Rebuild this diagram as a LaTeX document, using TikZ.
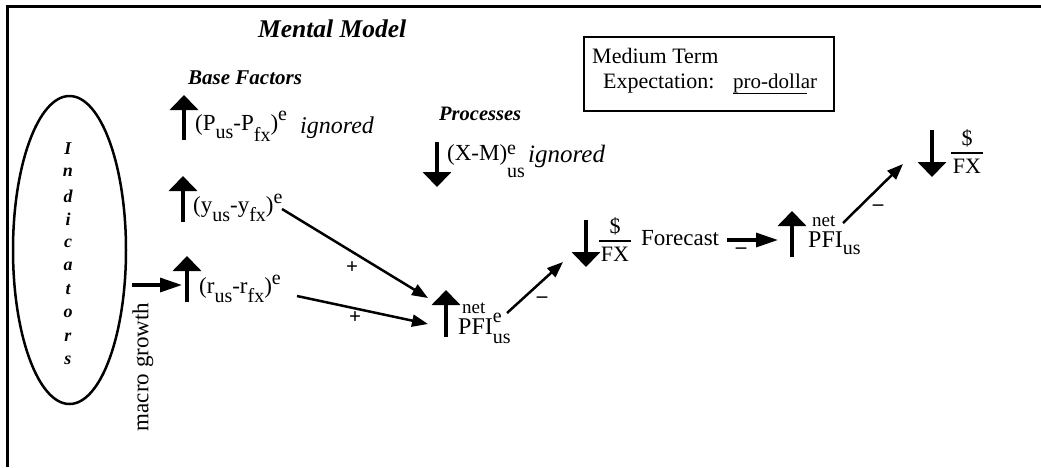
\documentclass[tikz,border=0pt]{standalone}
\usepackage{fontspec}
\setmainfont{Liberation Serif}
\usetikzlibrary{arrows.meta,shapes.geometric}
\newcommand\fs[1]{\fontsize{#1}{#1}\selectfont}
\newcommand\lo[2][9pt]{\raisebox{-#1}{\fs{20}#2}}
\newcommand\hi[2][9pt]{\raisebox{#1}{\fs{20}#2}}
\newcommand\lohi[4]{\rlap{\raisebox{#3}{\fs{20}#2}}\raisebox{-#4}{\fs{20}#1}}
\newcommand\dfx{\(\displaystyle{\hbox{\fs{22}\$}\above1.8pt\hbox{\fs{22}\kern2pt FX\kern2pt}}\)}
\tikzset{
  txt/.style={inner sep=0pt, anchor=base west, font=\fs{23}},
  head/.style={inner sep=0pt, anchor=base west, font=\fs{#1}\bfseries\itshape},
  bigarrow/.style={line width=4pt, -{Triangle[width=28pt,length=15pt]}},
  conn/.style={line width=2.5pt, -{Triangle[width=12pt,length=16pt]}},
  hconn/.style={line width=3.2pt, -{Triangle[width=14pt,length=22pt]}},
  sign/.style={inner sep=0pt, font=\fs{21}\bfseries},
}
\begin{document}
\begin{tikzpicture}[x=1pt,y=-1pt]
\useasboundingbox (0,0) rectangle (1041,467);
% frame
\draw[line width=2.8pt] (7.8,467) -- (7.8,6.3) -- (1041,6.3);
% titles
\node[head=25.5] (title) at (258,37) {Mental Model};
\node[head=21] (base) at (188,84) {Base Factors};
\node[head=20.5] (proc) at (439,120) {Processes};
% indicators ellipse
\node[ellipse, draw, line width=2.5pt, minimum width=113pt, minimum height=308pt, inner sep=0pt] (ind) at (69.5,250) {};
\foreach \l [count=\i from 0] in {I,n,d,i,c,a,t,o,r,s}
  \node[inner sep=0pt, font=\fs{18}\bfseries\itshape] (ind\i) at (68,149+23.5*\i) {\l};
\node[inner sep=0pt, font=\fs{23}, rotate=90] (macro) at (143,367) {macro growth};
% base factors
\draw[bigarrow] (184,140) -- (184,95);
\node[txt] (pf) at (195,130) {(P\lo[8pt]{us}-P\lo[11pt]{fx})\hi[10pt]{e}};
\node[txt, font=\fs{24}\itshape] (ign1) at (300,133) {ignored};
\draw[bigarrow] (183,222) -- (183,176);
\node[txt] (yf) at (193,212) {(y\lo{us}-y\lo{fx})\hi{e}};
\draw[bigarrow] (187,302) -- (187,256);
\node[txt] (rf) at (199,293) {(r\lo{us}-r\lo{fx})\hi{e}};
% processes
\draw[bigarrow] (437,142) -- (437,187);
\node[txt] (xm) at (447,160) {(X-M)\lohi{us}{e}{6pt}{17pt}};
\node[txt, font=\fs{25}\itshape] (ign2) at (528,162) {ignored};
% PFI 1
\draw[bigarrow] (446,337) -- (446,290);
\node[txt, font=\fs{19}] (net1) at (462,313) {net};
\node[txt, font=\fs{24}] (pfi1) at (458,334) {PFI\lohi{us}{e}{12pt}{9pt}};
% forecast
\draw[bigarrow] (586,220) -- (586,267);
\node[inner sep=0pt] (fx1) at (615,239.5) {\dfx};
\node[txt] (fc) at (641,245) {Forecast};
% PFI 2
\draw[bigarrow] (792,257) -- (792,211);
\node[txt, font=\fs{19}] (net2) at (812,226.5) {net};
\node[txt, font=\fs{24}] (pfi2) at (808,247) {PFI\lo[7pt]{us}};
% final
\draw[bigarrow] (932,130) -- (932,177);
\node[inner sep=0pt] (fx2) at (967,151.5) {\dfx};
% medium term box
\node[draw, line width=2pt, minimum width=250pt, minimum height=74pt, inner sep=0pt] (mt) at (709,74) {};
\node[txt, font=\fs{22}] (mt1) at (592,63) {Medium Term};
\node[txt, font=\fs{22}] (mt2) at (603,88) {Expectation:};
\node[txt, font=\fs{21}] (mt3) at (733,88) {pro-dollar};
\coordinate (ul1) at (733,93.5);
\coordinate (ul2) at (807,93.5);
\draw[line width=1.5pt] (ul1) -- (ul2);
% connector end points
\coordinate (c1a) at (132,285);  \coordinate (c1b) at (182,285);
\coordinate (c2a) at (282,209);  \coordinate (c2b) at (428,298);
\coordinate (c3a) at (297,296);  \coordinate (c3b) at (428,324);
\coordinate (c4a) at (507,313);  \coordinate (c4b) at (563,262);
\coordinate (c5a) at (727,240);  \coordinate (c5b) at (778,240);
\coordinate (c6a) at (843,223);  \coordinate (c6b) at (903,164);
\draw[hconn] (c1a) -- (c1b);
\draw[conn] (c2a) -- (c2b);
\draw[conn] (c3a) -- (c3b);
\draw[conn] (c4a) -- (c4b);
\draw[hconn] (c5a) -- (c5b);
\draw[conn] (c6a) -- (c6b);
% signs
\node[sign] (p1) at (352,268) {+};
\node[sign] (p2) at (355,318) {+};
\node[sign] (m1) at (542,300) {–};
\node[sign] (m2) at (741,251) {–};
\node[sign] (m3) at (878,208) {–};
\end{tikzpicture}
\end{document}
